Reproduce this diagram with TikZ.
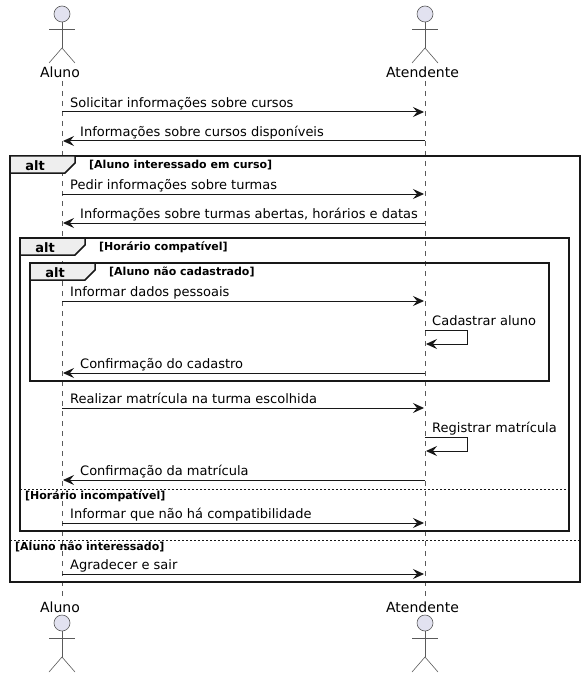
\documentclass[tikz,border=0pt]{standalone}
\usepackage{fontspec}
\setmainfont{DejaVu Sans}
\usetikzlibrary{arrows.meta}
\definecolor{linecol}{HTML}{181818}
\definecolor{thincol}{HTML}{5A5A5A}
\definecolor{actorcol}{HTML}{E2E2F0}
\definecolor{tabcol}{HTML}{EEEEEE}
\tikzset{
  lifeline/.style={thincol,line width=0.6pt,dash pattern=on 5pt off 5pt},
  actorline/.style={thincol,line width=0.6pt},
  actorhead/.style={circle,draw=thincol,fill=actorcol,line width=0.6pt,minimum size=16pt,inner sep=0pt},
  actorname/.style={font=\fontsize{14}{16}\selectfont,inner sep=0pt,text height=10pt,text depth=0pt},
  msg/.style={linecol,line width=1pt,-{Stealth[length=11pt,width=10pt,inset=4pt]}},
  msgtext/.style={font=\fontsize{13}{15}\selectfont,anchor=base west,inner sep=0pt,text=black},
  frameline/.style={linecol,line width=1.5pt},
  tabname/.style={font=\fontsize{13}{15}\selectfont\bfseries,inner sep=0pt,text=black},
  guard/.style={font=\fontsize{11}{13}\selectfont\bfseries,anchor=base west,inner sep=0pt,text=black},
  divider/.style={linecol,line width=0.8pt,dash pattern=on 2pt off 2pt}
}
\begin{document}
\begin{tikzpicture}[x=1pt,y=-1pt]
\useasboundingbox (0,0) rectangle (585,679);

% Actor names
\node[actorname] (alunotop) at (60,73) {Aluno};
\node[actorname] (atendtop) at (422.5,73) {Atendente};
\node[actorname] (alunobot) at (60,607) {Aluno};
\node[actorname] (atendbot) at (422.5,607) {Atendente};

% Lifelines
\draw[lifeline] (62,81) -- (62,598);
\draw[lifeline] (425,81) -- (425,598);

% Actors
\foreach \name/\x/\y in {alunoup/62/14,atendup/425/14,alunodown/62/623,atenddown/425/623} {
    \node[actorhead] (\name) at (\x,\y) {};
    \coordinate (\name hip) at (\x,\y+34);
    \coordinate (\name arml) at (\x-13,\y+15);
    \coordinate (\name armr) at (\x+13,\y+15);
    \coordinate (\name legl) at (\x-13,\y+49);
    \coordinate (\name legr) at (\x+13,\y+49);
    \draw[actorline] (\name.south) -- (\name hip);
    \draw[actorline] (\name arml) -- (\name armr);
    \draw[actorline] (\name legl) -- (\name hip) -- (\name legr);
}

% Frames
\draw[frameline] (10,156) rectangle (580,582);
\draw[frameline] (20,238) rectangle (569,531);
\draw[frameline] (30,263) rectangle (549,381);
\foreach \name/\x/\y/\tx/\gx/\gtext in {
    outer/10/156/75/89/{[Aluno interessado em curso]},
    middle/20/238/85/99/{[Horário compatível]},
    inner/30/263/95/109/{[Aluno não cadastrado]}} {
    \draw[frameline,fill=tabcol] (\x,\y) -- (\tx,\y) -- (\tx,\y+7) -- (\tx-10,\y+17) -- (\x,\y+17) -- cycle;
    \node[tabname] (\name tab) at (\x+25,\y+9.5) {alt};
    \node[guard] (\name guard) at (\gx,\y+12.5) {\gtext};
}

% Dividers
\draw[divider] (20,489) -- (569,489);
\draw[divider] (10,540) -- (580,540);
\node[guard] (middleelse) at (25,499) {[Horário incompatível]};
\node[guard] (outerelse) at (15,550) {[Aluno não interessado]};

% Messages to the right
\foreach \n/\y/\t in {
    a/112/{Solicitar informações sobre cursos},
    b/194/{Pedir informações sobre turmas},
    c/301/{Informar dados pessoais},
    d/408/{Realizar matrícula na turma escolhida},
    e/523/{Informar que não há compatibilidade},
    f/574/{Agradecer e sair}} {
    \coordinate (from\n) at (62,\y);
    \coordinate (to\n) at (424,\y);
    \draw[msg] (from\n) -- (to\n);
    \node[msgtext] (label\n) at (70,\y-4.5) {\t};
}

% Messages to the left
\foreach \n/\y/\t in {
    g/141/{Informações sobre cursos disponíveis},
    h/223/{Informações sobre turmas abertas, horários e datas},
    i/373/{Confirmação do cadastro},
    j/480/{Confirmação da matrícula}} {
    \coordinate (from\n) at (425,\y);
    \coordinate (to\n) at (63,\y);
    \draw[msg] (from\n) -- (to\n);
    \node[msgtext] (label\n) at (80,\y-4.5) {\t};
}

% Self messages
\foreach \n/\y/\t in {k/330/{Cadastrar aluno},l/437/{Registrar matrícula}} {
    \coordinate (from\n) at (425,\y);
    \coordinate (to\n) at (426,\y+14);
    \draw[msg] (from\n) -- (467,\y) -- (467,\y+14) -- (to\n);
    \node[msgtext] (label\n) at (432,\y-4.5) {\t};
}

\end{tikzpicture}
\end{document}
